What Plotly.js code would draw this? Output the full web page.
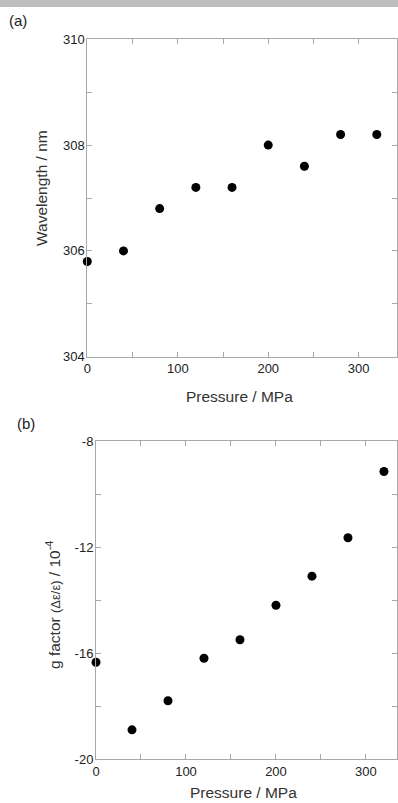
<!DOCTYPE html>
<html>
<head>
<meta charset="utf-8">
<script src="https://cdn.plot.ly/plotly-3.0.1.min.js"></script>
<style>
html,body{margin:0;padding:0;background:#fff;}
#wrap{position:relative;width:398px;height:803px;}
#bar{position:absolute;left:0;top:0;width:398px;height:7px;background:#bdbdbd;z-index:10;}
#chart{position:absolute;left:0;top:0;width:398px;height:803px;}
</style>
</head>
<body>
<div id="wrap"><div id="chart"></div><div id="bar"></div></div>
<script>
// Data
const pressure = [0, 40, 80, 120, 160, 200, 240, 280, 320];
const wavelength = [305.8, 306.0, 306.8, 307.2, 307.2, 308.0, 307.6, 308.2, 308.2];
const gFactor = [-16.35, -18.9, -17.8, -16.2, -15.5, -14.2, -13.1, -11.65, -9.15];

// Tick labels
const xTickVals = [0, 100, 200, 300];
const xTickText = ['0', '100', '200', '300'];
const waveTickVals = [304, 306, 308, 310];
const waveTickText = ['304', '306', '308', '310'];
const gTickVals = [-20, -16, -12, -8];
const gTickText = ['-20', '-16', '-12', '-8'];

const W = 398, H = 803;
const fx = p => p / W;
const fy = p => 1 - p / H;

const axisColor = '#a8a8a8';
const FONT = 'Liberation Sans, Arial, sans-serif';
const tickFont = {family: FONT, size: 13, color: '#222'};
const titleFont = {family: FONT, size: 15.5, color: '#333'};

function xax(domain, range) {
  return {
    domain: domain, range: range, tickmode: 'array', tickvals: xTickVals, ticktext: xTickText,
    showgrid: false, zeroline: false, showline: true, linecolor: axisColor, linewidth: 1,
    mirror: 'ticks', ticks: 'inside', ticklen: 5, tickcolor: axisColor,
    minor: {dtick: 50, tick0: 0, ticks: 'inside', ticklen: 5, tickcolor: axisColor, showgrid: false},
    tickfont: tickFont, automargin: false, fixedrange: true
  };
}
function yax(domain, range, vals, text, minor) {
  return {
    domain: domain, range: range, tickmode: 'array', tickvals: vals, ticktext: text,
    showgrid: false, zeroline: false, showline: true, linecolor: axisColor, linewidth: 1,
    mirror: 'ticks', ticks: 'inside', ticklen: 5, tickcolor: axisColor,
    minor: {dtick: minor, tick0: 0, ticks: 'inside', ticklen: 5, tickcolor: axisColor, showgrid: false},
    tickfont: tickFont, automargin: false, fixedrange: true, ticklabelstandoff: -1
  };
}

const marker = {color: '#000', size: 9};
const traces = [
  {x: pressure, y: wavelength, type: 'scatter', mode: 'markers', marker: marker,
   xaxis: 'x', yaxis: 'y', cliponaxis: false, hoverinfo: 'skip'},
  {x: pressure, y: gFactor, type: 'scatter', mode: 'markers', marker: marker,
   xaxis: 'x2', yaxis: 'y2', cliponaxis: false, hoverinfo: 'skip'}
];

function ann(text, x, y, font, angle) {
  return {text: text, x: fx(x), y: fy(y), xref: 'paper', yref: 'paper', showarrow: false,
          xanchor: 'center', yanchor: 'middle', textangle: angle || 0, font: font};
}

const labelFont = {family: FONT, size: 15, color: '#222'};

const layout = {
  width: W, height: H,
  margin: {l: 0, r: 0, t: 0, b: 0},
  paper_bgcolor: '#fff', plot_bgcolor: '#fff',
  showlegend: false,
  xaxis: Object.assign(xax([fx(87.3), fx(396.7)], [0, 342]), {anchor: 'y'}),
  yaxis: Object.assign(yax([fy(356.7), fy(39.3)], [304, 310], waveTickVals, waveTickText, 1), {anchor: 'x'}),
  xaxis2: Object.assign(xax([fx(96), fx(397)], [0, 334.5]), {anchor: 'y2'}),
  yaxis2: Object.assign(yax([fy(759), fy(441)], [-20, -8], gTickVals, gTickText, 2), {anchor: 'x2'}),
  annotations: [
    ann('(a)', 18, 21, labelFont),
    ann('(b)', 26, 423, labelFont),
    ann('Wavelength / nm', 41, 188, titleFont, -90),
    ann('Pressure / MPa', 240, 396, titleFont),
    ann('g factor <span style="font-size:13px">(Δε/ε)</span> / 10<sup>-4</sup>', 53, 605, titleFont, -90),
    ann('Pressure / MPa', 243, 792, titleFont)
  ]
};

Plotly.newPlot('chart', traces, layout, {displayModeBar: false, staticPlot: true});
</script>
</body>
</html>
